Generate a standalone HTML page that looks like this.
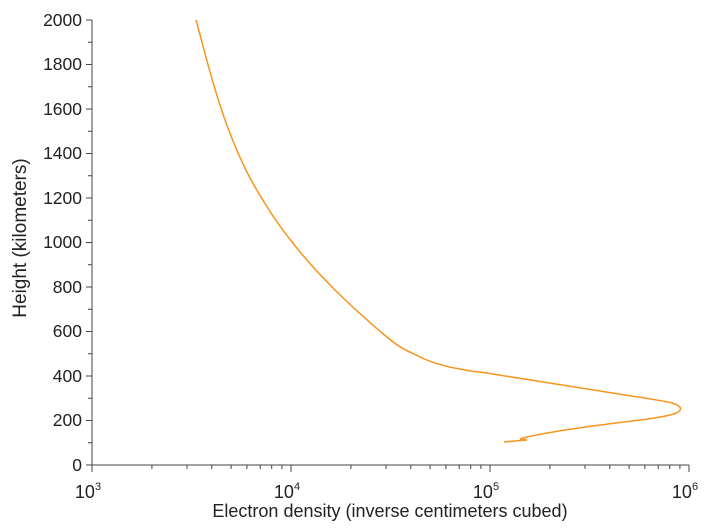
<!DOCTYPE html>
<html><head><style>body{margin:0;background:#fff}svg{display:block}</style></head>
<body>
<svg width="720" height="528" xmlns="http://www.w3.org/2000/svg" font-family="Liberation Sans, sans-serif" fill="#222">
<g stroke="#444" stroke-width="1" fill="none">
<path d="M92,20 V465 H689"/>
<path d="M86,20H92M86,64.5H92M86,109H92M86,153.5H92M86,198H92M86,242.5H92M86,287H92M86,331.5H92M86,376H92M86,420.5H92M86,465H92"/>
<path d="M88,42.2H92M88,86.7H92M88,131.2H92M88,175.7H92M88,220.2H92M88,264.7H92M88,309.2H92M88,353.7H92M88,398.2H92M88,442.7H92"/>
<path id="dec" d="M92,465v7M151.9,465v4M187,465v4M211.8,465v4M231.1,465v4M246.9,465v4M260.2,465v4M271.7,465v4M281.9,465v4"/>
<use href="#dec" x="199"/><use href="#dec" x="398"/>
<path d="M689,465v7"/>
</g>
<g font-size="17.5" text-anchor="end">
<text x="82" y="26">2000</text><text x="82" y="70">1800</text><text x="82" y="115">1600</text><text x="82" y="159">1400</text><text x="82" y="204">1200</text><text x="82" y="248">1000</text><text x="82" y="293">800</text><text x="82" y="337">600</text><text x="82" y="382">400</text><text x="82" y="426">200</text><text x="82" y="471">0</text>
</g>
<g font-size="18" text-anchor="middle">
<text x="88" y="498">10<tspan font-size="11" dy="-8">3</tspan></text>
<text x="287" y="498">10<tspan font-size="11" dy="-8">4</tspan></text>
<text x="486" y="498">10<tspan font-size="11" dy="-8">5</tspan></text>
<text x="685" y="498">10<tspan font-size="11" dy="-8">6</tspan></text>
<text x="390" y="517">Electron density (inverse centimeters cubed)</text>
<text font-size="19" transform="translate(26,238) rotate(-90)">Height (kilometers)</text>
</g>
<path fill="none" stroke="#f7941d" stroke-width="1.5" d="M196,20 C203,45 210,75 220,105 C228,130 238,155 250,178 C262,200 276,222 292,242 C306,260 320,275 335,290 C350,305 367,320 382,333 C395,344 402,349 412,353 C425,360 440,366 460,369 C470,371 475,372 480,372 C520,378 560,385 600,391 C630,396 660,400 672,403 C682,406 684,410 674,414 C660,418 640,420 600,425 C570,429 545,433 527,437 L520,439 L527,440 L515,441 L504,442"/>
</svg>
</body></html>
